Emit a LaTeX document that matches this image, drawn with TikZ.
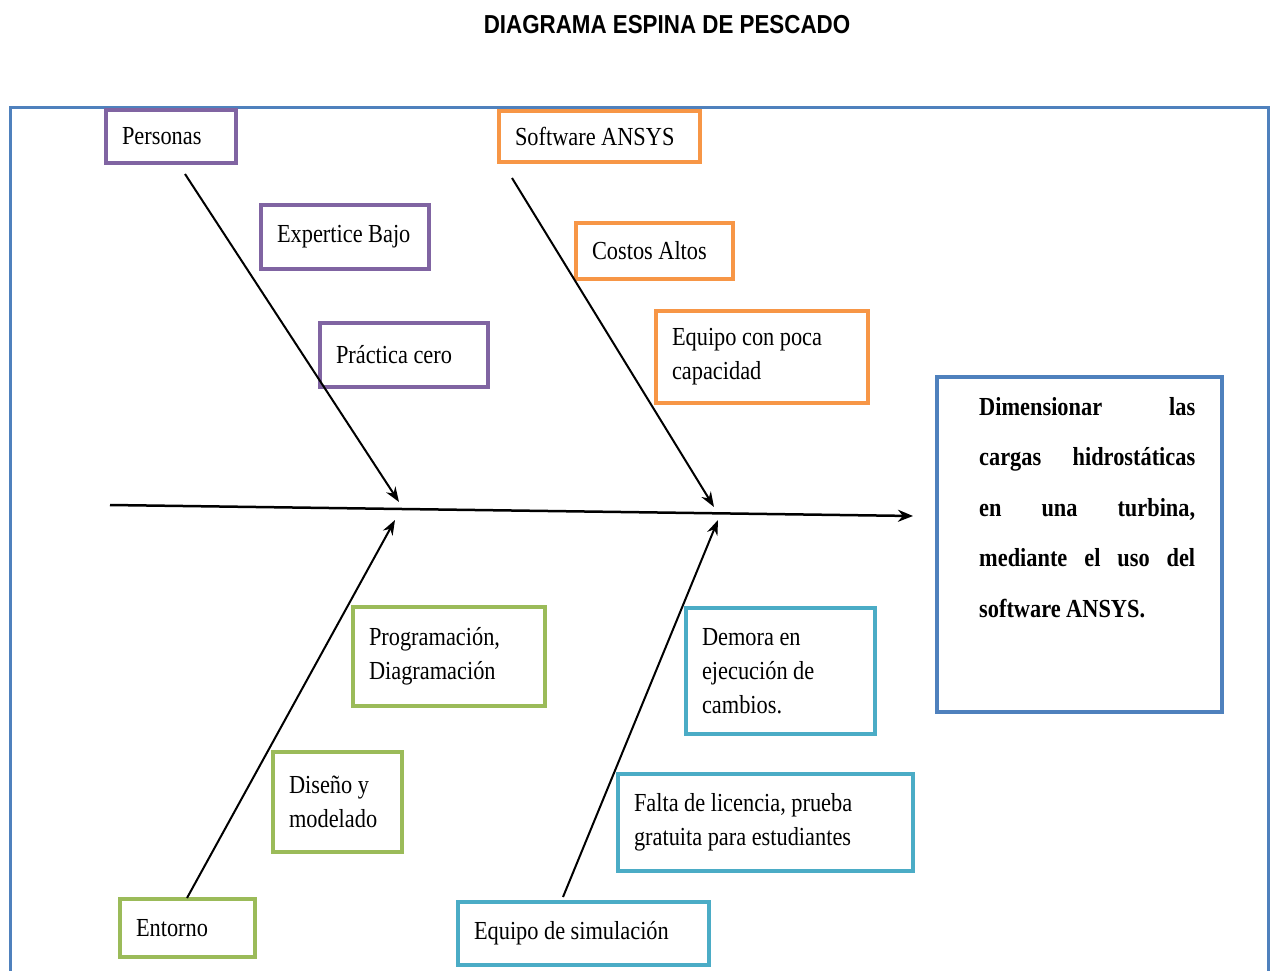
\documentclass[tikz,border=0pt]{standalone}
\usepackage{fontspec}
\setmainfont[FakeStretch=0.86]{Liberation Serif}
\newfontfamily\titlefont[FakeStretch=0.86]{Liberation Sans}
\usetikzlibrary{arrows.meta,calc}
\definecolor{frameblue}{HTML}{4F81BD}
\definecolor{bpurple}{HTML}{8064A2}
\definecolor{borange}{HTML}{F79646}
\definecolor{bgreen}{HTML}{9BBB59}
\definecolor{bcyan}{HTML}{4BACC6}
\newcommand\narrowspace{\spaceskip=5.5pt plus 1pt minus 1pt\relax}
\newcommand\goalspace{\spaceskip=5.5pt plus 60pt minus 1pt\relax}
\tikzset{
  box/.style={draw, rectangle, line width=3.5pt, inner xsep=16pt, inner ysep=0pt,
    align=left, font=\fontsize{26}{34}\selectfont, anchor=center,
    execute at begin node=\narrowspace},
  pbox/.style={box, draw=bpurple},
  obox/.style={box, draw=borange},
  gbox/.style={box, draw=bgreen},
  cbox/.style={box, draw=bcyan},
  bone/.style={line width=2pt, -{Stealth[length=15pt,width=11pt]}},
}
\begin{document}
\begin{tikzpicture}[x=1pt,y=-1pt]
\useasboundingbox (0,0) rectangle (1270,971);
\node[font=\titlefont\bfseries\fontsize{26}{30}\selectfont] (title) at (667,25) {DIAGRAMA ESPINA DE PESCADO};
\draw[frameblue, line width=3pt] (10,990) -- (10,108) -- (1268,108) -- (1268,990);

% upper bones
\node[pbox, minimum width=130pt, minimum height=53pt, text width=98pt] (per) at (171,136.5) {Personas};
\node[pbox, minimum width=168pt, minimum height=64pt, text width=136pt] (exp) at (345,237) {\mbox{Expertice Bajo}};
\node[pbox, minimum width=168pt, minimum height=64pt, text width=136pt] (pra) at (404,355) {Práctica cero};
\node[obox, minimum width=201pt, minimum height=51pt, text width=169pt] (sw) at (599.5,136.5) {Software ANSYS};
\node[obox, minimum width=157pt, minimum height=56pt, text width=125pt] (cos) at (654.5,251) {Costos Altos};
\node[obox, minimum width=212pt, minimum height=92pt, text width=180pt] (eqp) at (762,357) {Equipo con poca\\capacidad};

% lower bones
\node[gbox, minimum width=192pt, minimum height=99pt, text width=160pt] (prog) at (449,656.5) {Programación,\\Diagramación};
\node[gbox, minimum width=129pt, minimum height=100pt, text width=97pt] (dis) at (337.5,802) {Diseño y\\modelado};
\node[gbox, minimum width=135pt, minimum height=58pt, text width=103pt] (ent) at (187.5,928) {Entorno};
\node[cbox, minimum width=189pt, minimum height=126pt, text width=157pt] (dem) at (780.5,671) {Demora en\\ejecución de\\cambios.};
\node[cbox, minimum width=295pt, minimum height=97pt, text width=263pt] (fal) at (765.5,822.5) {Falta de licencia, prueba\\gratuita para estudiantes};
\node[cbox, minimum width=251pt, minimum height=63pt, text width=219pt] (eqs) at (583.5,933.5) {Equipo de simulación};

% goal
\node[draw=frameblue, line width=3.5pt, rectangle, minimum width=285pt, minimum height=335pt] (goal) at (1079.5,544.5) {};
\node[anchor=north west, inner sep=0pt, text width=216pt, align=justify,
  font=\fontsize{26}{50.5}\selectfont\bfseries, execute at begin node=\goalspace] (goaltext) at (979,397)
  {Dimensionar las\linebreak cargas hidrostáticas\linebreak en una turbina,\linebreak mediante el uso del\linebreak software ANSYS.};

% spine and bones
\coordinate (tail) at (110,505);
\coordinate (head) at (913,516);
\draw[line width=2.5pt, -{Stealth[length=15pt,width=12pt]}] (tail) -- (head);
\coordinate (b1s) at (185,174);
\coordinate (b1e) at (399,502);
\coordinate (b2s) at (512,178);
\coordinate (b2e) at (714,507);
\coordinate (b3s) at (187,898);
\coordinate (b3e) at (395,520);
\coordinate (b4s) at (563,897);
\coordinate (b4e) at (718,520);
\draw[bone] (b1s) -- (b1e);
\draw[bone] (b2s) -- (b2e);
\draw[bone] (b3s) -- (b3e);
\draw[bone] (b4s) -- (b4e);
\end{tikzpicture}
\end{document}
